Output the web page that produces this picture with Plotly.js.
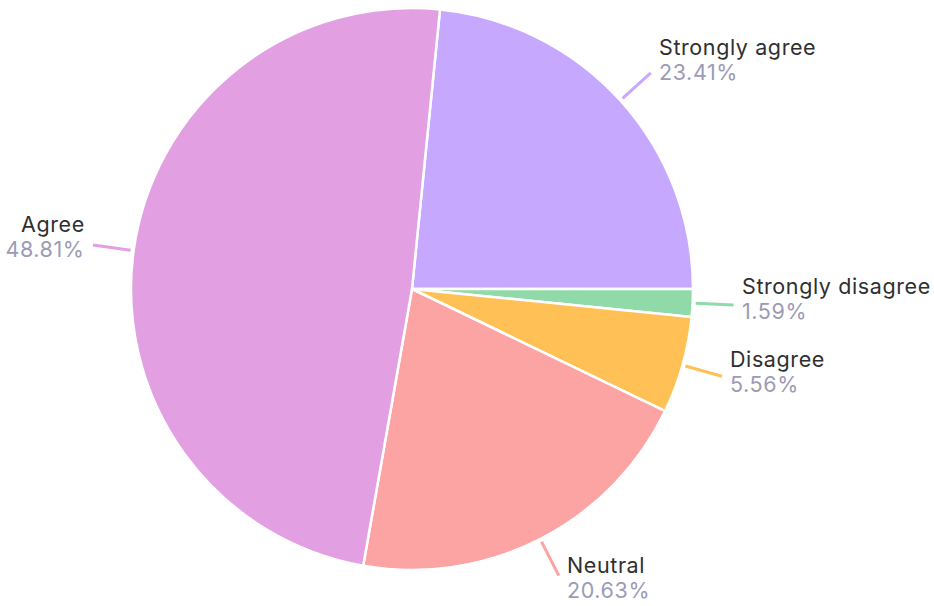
<!DOCTYPE html>
<html><head><meta charset="utf-8">
<script src="https://cdn.plot.ly/plotly-3.0.1.min.js"></script>
<style>html,body{margin:0;padding:0;background:#fff;overflow:hidden;} #chart{width:934px;height:606px;}
#chart .annotation-text{letter-spacing:0.6px;}</style>
</head><body><div id="chart"></div>
<script>
const labels = ['Strongly agree', 'Strongly disagree', 'Disagree', 'Neutral', 'Agree'];
const values = [23.41, 1.59, 5.56, 20.63, 48.81];
const colors = ['#c6a9ff', '#90d9a9', '#ffc155', '#fca3a3', '#e2a0e3'];

const W = 934, H = 606, cx = 412, cy = 289, R = 281;
const ROT = 5.72;
const FONT = 'Inter, sans-serif';
const total = values.reduce((a, b) => a + b, 0);
let acc = 0;
const annotations = [], shapes = [];
values.forEach((v, i) => {
  const mid = (ROT + (acc + v / 2) / total * 360) * Math.PI / 180;
  acc += v;
  const dx = Math.sin(mid), dy = -Math.cos(mid);
  const r0 = R + 3, r1 = R + 41;
  const x0 = cx + dx * r0, y0 = cy + dy * r0, x1 = cx + dx * r1, y1 = cy + dy * r1;
  shapes.push({type: 'line', xref: 'paper', yref: 'paper', layer: 'above',
    x0: x0 / W, y0: 1 - y0 / H, x1: x1 / W, y1: 1 - y1 / H,
    line: {color: colors[i], width: 3}});
  const right = dx >= 0;
  const ty = y1 - (7 - 10 * dy);
  const ax = (x1 + (right ? 6 : -6)) / W;
  const base = {xref: 'paper', yref: 'paper', x: ax,
    xanchor: right ? 'left' : 'right', yanchor: 'middle', align: right ? 'left' : 'right',
    showarrow: false};
  annotations.push(Object.assign({}, base, {y: 1 - (ty - 12.5) / H, text: labels[i],
    font: {family: FONT, size: 21.5, color: '#2f2f2f'}}));
  annotations.push(Object.assign({}, base, {y: 1 - (ty + 12.5) / H, text: v.toFixed(2) + '%',
    font: {family: FONT, size: 21.5, color: '#9b9bb6'}}));
});

const trace = {
  type: 'pie', labels: labels, values: values, sort: false, direction: 'clockwise',
  rotation: ROT, textinfo: 'none', hoverinfo: 'none', showlegend: false,
  marker: {colors: colors, line: {color: '#ffffff', width: 2.5}},
  domain: {x: [(cx - R) / W, (cx + R) / W], y: [1 - (cy + R) / H, 1 - (cy - R) / H]}
};
Plotly.newPlot('chart', [trace], {
  width: W, height: H, margin: {l: 0, r: 0, t: 0, b: 0},
  paper_bgcolor: '#ffffff', plot_bgcolor: '#ffffff',
  annotations: annotations, shapes: shapes, showlegend: false
}, {displayModeBar: false, staticPlot: true});
</script></body></html>
